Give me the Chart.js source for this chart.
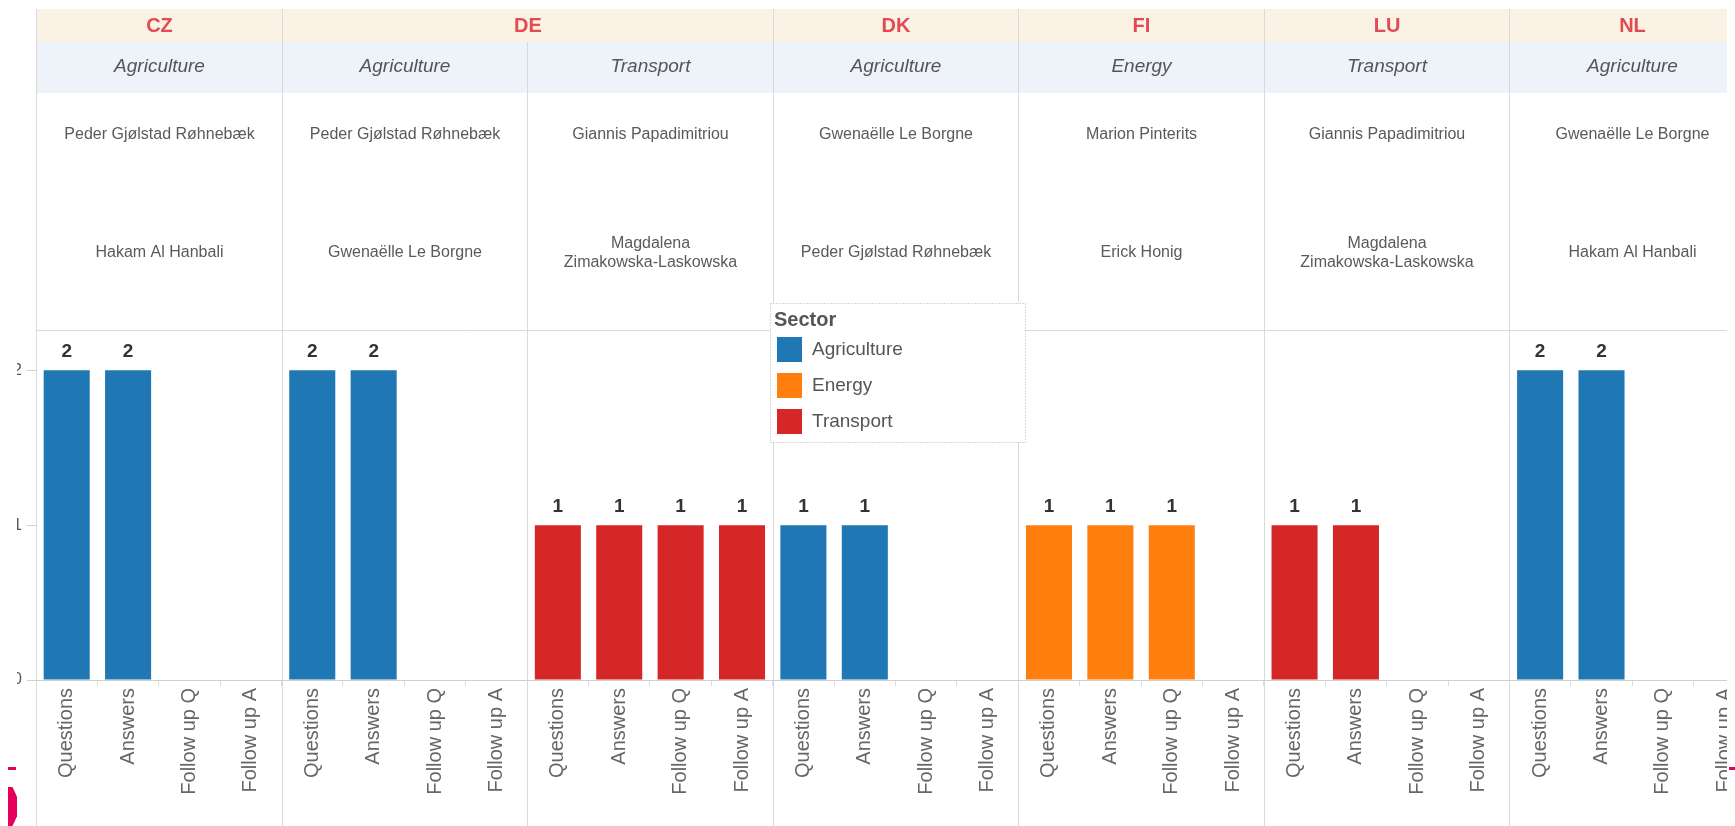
<!DOCTYPE html>
<html lang="en">
<head>
<meta charset="UTF-8">
<title>Questions and answers by country and sector</title>
<script src="https://cdn.jsdelivr.net/npm/chart.js@4"></script>
<style>
  html, body { margin: 0; padding: 0; background: #fff; }
  body { width: 1735px; height: 826px; overflow: hidden; position: relative; }
  #wrap { position: absolute; left: 17px; top: 0; width: 1710px; height: 826px; overflow: hidden; }
  #chart { position: absolute; left: 0; top: 0; }
  .mark { position: absolute; background: #e5005b; }
</style>
</head>
<body>
<div id="wrap"><canvas id="chart" width="1740" height="826"></canvas></div>
<div class="mark" style="left:8px;top:767px;width:8px;height:3px"></div>
<div class="mark" style="left:8px;top:787px;width:9px;height:39px;clip-path:polygon(0 0,50% 0,100% 25%,100% 75%,50% 100%,0 100%)"></div>
<div class="mark" style="left:1729px;top:767px;width:6px;height:3px"></div>
<script>
// one panel per country / sector pair
var countries = ['CZ', 'DE', 'DE', 'DK', 'FI', 'LU', 'NL'];
var sectors = ['Agriculture', 'Agriculture', 'Transport', 'Agriculture', 'Energy', 'Transport', 'Agriculture'];
var firstNames = ['Peder Gjølstad Røhnebæk', 'Peder Gjølstad Røhnebæk', 'Giannis Papadimitriou', 'Gwenaëlle Le Borgne',
    'Marion Pinterits', 'Giannis Papadimitriou', 'Gwenaëlle Le Borgne'];
var secondNames = ['Hakam Al Hanbali', 'Gwenaëlle Le Borgne', 'Magdalena\nZimakowska-Laskowska', 'Peder Gjølstad Røhnebæk',
    'Erick Honig', 'Magdalena\nZimakowska-Laskowska', 'Hakam Al Hanbali'];

var measures = ['Questions', 'Answers', 'Follow up Q', 'Follow up A'];
var questions = [2, 2, 1, 1, 1, 1, 2];
var answers = [2, 2, 1, 1, 1, 1, 2];
var followUpQ = [null, null, 1, null, 1, null, null];
var followUpA = [null, null, 1, null, null, null, null];

var sectorNames = ['Agriculture', 'Energy', 'Transport'];
var sectorColors = ['#1f77b4', '#ff7f0e', '#d62728'];

Chart.defaults.font.family = '"Liberation Sans", Arial, sans-serif';

// flatten panels x measures into one category axis
var labels = [];
var values = [];
var panelOf = [];
for (var p = 0; p < countries.length; p++) {
    var row = [questions[p], answers[p], followUpQ[p], followUpA[p]];
    for (var m = 0; m < measures.length; m++) {
        labels.push(measures[m]);
        values.push(row[m]);
        panelOf.push(p);
    }
}

var datasets = sectorNames.map(function (name, s) {
    return {
        label: name,
        data: values.map(function (v, i) { return sectors[panelOf[i]] === name ? v : null; }),
        backgroundColor: sectorColors[s],
        barPercentage: 0.75,
        categoryPercentage: 1
    };
});

var tableLayout = {
    id: 'tableLayout',
    beforeDraw: function (chart) {
        var c = chart.ctx, area = chart.chartArea, xs = chart.scales.x;
        var W = chart.width, H = chart.height;
        var cat = (area.right - area.left) / labels.length;
        function edge(p) { return Math.round(xs.getPixelForValue(p * 4) - cat / 2) + 0.5; }
        var left = edge(0);

        c.save();
        c.fillStyle = '#f9f2e5';
        c.fillRect(left, 9, W - left, 33);
        c.fillStyle = '#eef2f9';
        c.fillRect(left, 42, W - left, 51);

        c.textAlign = 'center';
        c.textBaseline = 'middle';

        // country row
        c.font = 'bold 20px "Liberation Sans", Arial, sans-serif';
        c.fillStyle = '#e34a51';
        var start = 0;
        for (var p = 1; p <= countries.length; p++) {
            if (p === countries.length || countries[p] !== countries[start]) {
                c.fillText(countries[start], (edge(start) + edge(p)) / 2, 26);
                start = p;
            }
        }

        // sector row and names
        for (var p = 0; p < countries.length; p++) {
            var mid = (edge(p) + edge(p + 1)) / 2;
            c.font = 'italic 19px "Liberation Sans", Arial, sans-serif';
            c.fillStyle = '#555';
            c.fillText(sectors[p], mid, 67);

            c.font = '16px "Liberation Sans", Arial, sans-serif';
            c.fillStyle = '#5a5a5a';
            c.fillText(firstNames[p], mid, 135);
            var lines = secondNames[p].split('\n');
            for (var k = 0; k < lines.length; k++) {
                c.fillText(lines[k], mid, 253 + (k - (lines.length - 1) / 2) * 19);
            }
        }

        // grid lines of the table
        c.strokeStyle = '#dadada';
        c.lineWidth = 1;
        c.beginPath();
        c.moveTo(left, Math.round(area.top) + 0.5);
        c.lineTo(W, Math.round(area.top) + 0.5);
        c.moveTo(left, 9);
        c.lineTo(left, H);
        for (var p = 1; p < countries.length; p++) {
            var top = countries[p] !== countries[p - 1] ? 9 : 42;
            c.moveTo(edge(p), top);
            c.lineTo(edge(p), H);
        }
        c.stroke();
        c.restore();
    },
    afterDatasetsDraw: function (chart) {
        var c = chart.ctx;
        c.save();
        c.font = 'bold 19px "Liberation Sans", Arial, sans-serif';
        c.fillStyle = '#333';
        c.textAlign = 'center';
        c.textBaseline = 'middle';
        chart.data.datasets.forEach(function (ds, d) {
            chart.getDatasetMeta(d).data.forEach(function (bar, i) {
                if (ds.data[i] == null) return;
                c.fillText(ds.data[i], bar.x, bar.y - 18);
            });
        });
        c.restore();
    },
    afterDraw: function (chart) {
        // legend box, placed like the floating Tableau legend
        var c = chart.ctx;
        var bx = 753, by = 303, bw = 255, bh = 139;
        c.save();
        c.fillStyle = '#fff';
        c.fillRect(bx, by, bw, bh);
        c.strokeStyle = '#b0b0b0';
        c.setLineDash([1, 2]);
        c.strokeRect(bx + 0.5, by + 0.5, bw, bh);
        c.setLineDash([]);
        c.textAlign = 'left';
        c.textBaseline = 'middle';
        c.font = 'bold 20px "Liberation Sans", Arial, sans-serif';
        c.fillStyle = '#555';
        c.fillText('Sector', bx + 4, by + 17);
        c.font = '19px "Liberation Sans", Arial, sans-serif';
        sectorNames.forEach(function (name, s) {
            var y = by + 34 + s * 36;
            c.fillStyle = sectorColors[s];
            c.fillRect(bx + 7, y, 25, 25);
            c.fillStyle = '#555';
            c.fillText(name, bx + 42, y + 13);
        });
        c.restore();
    }
};

var ctx = document.getElementById('chart').getContext('2d');
var chart = new Chart(ctx, {
    type: 'bar',
    data: { labels: labels, datasets: datasets },
    options: {
        responsive: false,
        animation: false,
        layout: { padding: { top: 330, right: 2, left: 0, bottom: 0 } },
        plugins: { legend: { display: false }, tooltip: { enabled: false } },
        scales: {
            x: {
                stacked: true,
                grid: { display: true, drawOnChartArea: false, drawTicks: true, tickLength: 6, color: '#dcdcdc', offset: true },
                border: { display: true, color: '#d0d0d0' },
                ticks: { autoSkip: false, minRotation: 90, maxRotation: 90, color: '#666', font: { size: 20 }, padding: 2 },
                afterFit: function (s) { s.height = 146; }
            },
            y: {
                stacked: true,
                min: 0,
                max: 2.26,
                afterBuildTicks: function (s) {
                    s.ticks = s.ticks.filter(function (t) { return Number.isInteger(t.value); });
                },
                grid: { drawOnChartArea: false, drawTicks: true, tickLength: 9, color: '#d0d0d0' },
                border: { display: false },
                ticks: { stepSize: 1, color: '#555', font: { size: 16 }, padding: 5 },
                afterFit: function (s) { s.width = 19; }
            }
        }
    },
    plugins: [tableLayout]
});
</script>
</body>
</html>
